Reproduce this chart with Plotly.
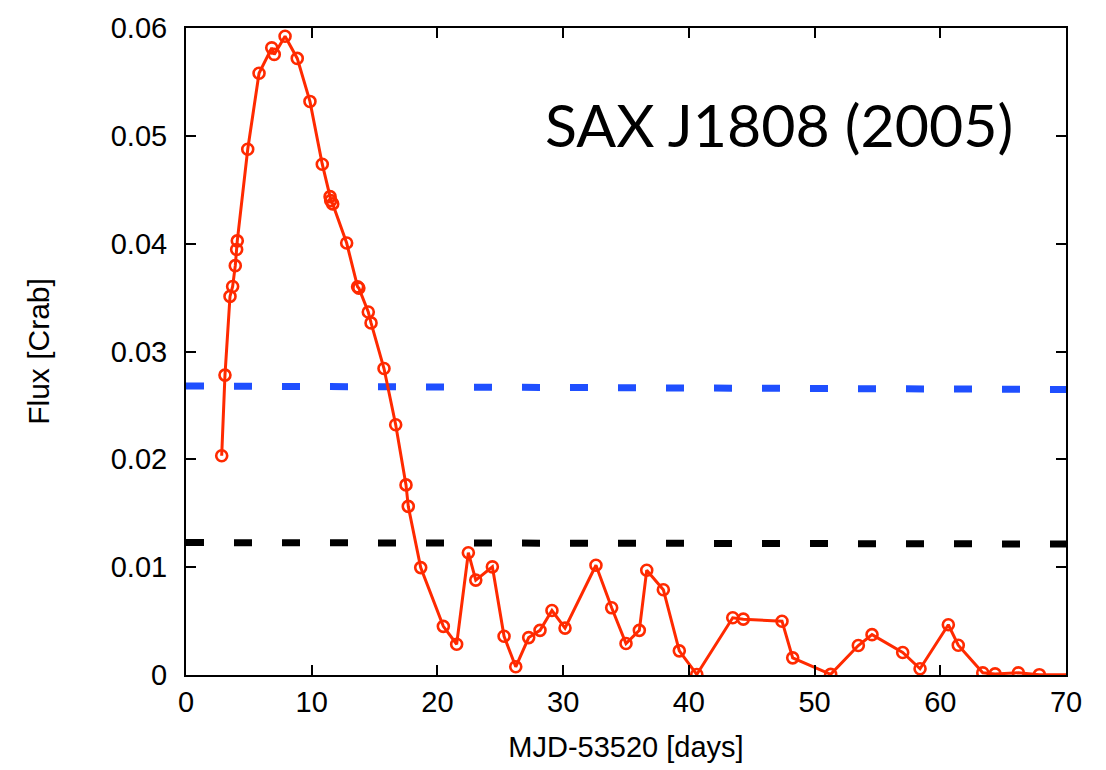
import plotly.graph_objects as go

# Light curve: MJD-53520 [days] vs flux [Crab]
days = [2.84, 3.10, 3.50, 3.71, 3.92, 4.03, 4.08, 4.91, 5.81, 6.82, 7.02, 7.88,
        8.85, 9.86, 10.84, 11.46, 11.51, 11.67, 12.78, 13.65, 13.75, 14.50, 14.72,
        15.75, 16.68, 17.50, 17.68, 18.67, 20.47, 21.53, 22.46, 23.05, 24.37,
        25.30, 26.23, 27.26, 28.16, 29.11, 30.15, 32.61, 33.86, 35.00, 36.06,
        36.65, 37.97, 39.24, 40.63, 43.49, 44.33, 47.41, 48.26, 51.28, 53.48,
        54.57, 57.01, 58.39, 60.64, 61.43, 63.38, 64.36, 66.21, 67.88, 72.0]
flux = [0.02033, 0.02781, 0.03511, 0.03603, 0.03796, 0.03946, 0.04026, 0.04875,
        0.05580, 0.05816, 0.05755, 0.05923, 0.05718, 0.05319, 0.04737, 0.04436,
        0.04399, 0.04369, 0.04006, 0.03600, 0.03588, 0.03366, 0.03265, 0.02842,
        0.02321, 0.01763, 0.01564, 0.00996, 0.00451, 0.00285, 0.01134, 0.00880,
        0.01003, 0.00359, 0.00076, 0.00347, 0.00414, 0.00598, 0.00435, 0.01018,
        0.00623, 0.00292, 0.00414, 0.00972, 0.00791, 0.00224, 0.00005, 0.00531,
        0.00518, 0.00499, 0.00159, 0.00006, 0.00273, 0.00374, 0.00209, 0.00058,
        0.00466, 0.00276, 0.00020, 0.00010, 0.00020, 0.00003, 0.0]

# Reference levels (dashed)
level_x = [0, 70]
blue_level = [0.02680, 0.02648]
black_level = [0.01228, 0.01215]

x_ticks = [0, 10, 20, 30, 40, 50, 60, 70]
y_ticks = [0, 0.01, 0.02, 0.03, 0.04, 0.05, 0.06]
y_tick_text = ["0", "0.01", "0.02", "0.03", "0.04", "0.05", "0.06"]

fig = go.Figure()
fig.add_trace(go.Scatter(x=level_x, y=blue_level, mode="lines",
                         line=dict(color="#1f4fff", width=7, dash="18px,30px"),
                         hoverinfo="skip"))
fig.add_trace(go.Scatter(x=level_x, y=black_level, mode="lines",
                         line=dict(color="#000000", width=7, dash="18px,30px"),
                         hoverinfo="skip"))
fig.add_trace(go.Scatter(x=days, y=flux, mode="lines+markers",
                         line=dict(color="#ff2a00", width=3),
                         marker=dict(symbol="circle-open", size=11,
                                     color="#ff2a00", line=dict(width=2.6, color="#ff2a00"))))

font_family = "Liberation Sans, Arial, sans-serif"
axis_font = dict(family=font_family, size=29, color="#000")
fig.update_layout(
    width=1106, height=770,
    margin=dict(l=186, r=40, t=23, b=95),
    paper_bgcolor="white", plot_bgcolor="white",
    showlegend=False,
    font=dict(family=font_family, color="#000"),
    xaxis=dict(range=[0, 70], tickvals=x_ticks, ticks="inside", ticklen=10, tickwidth=1.5,
               tickcolor="#000", showline=True, linecolor="#000", linewidth=2,
               mirror="allticks", showgrid=False, zeroline=False, tickfont=axis_font,
               title=dict(text="MJD-53520 [days]", font=dict(family=font_family, size=29),
                          standoff=20)),
    yaxis=dict(range=[0, 0.06], tickvals=y_ticks, ticktext=y_tick_text, ticks="inside",
               ticklen=10, tickwidth=1.5, tickcolor="#000", showline=True, linecolor="#000",
               linewidth=2, mirror="allticks", showgrid=False, zeroline=False,
               tickfont=axis_font, ticklabelstandoff=11,
               title=dict(text="Flux [Crab]", font=dict(family=font_family, size=30),
                          standoff=52)),
    annotations=[dict(text="SAX J1808 (2005)", x=0.674, y=0.851, xref="paper", yref="paper",
                      xanchor="center", yanchor="middle", showarrow=False,
                      font=dict(family="Lato, sans-serif", size=59, color="#000"))],
)

fig.write_html("out.html")
